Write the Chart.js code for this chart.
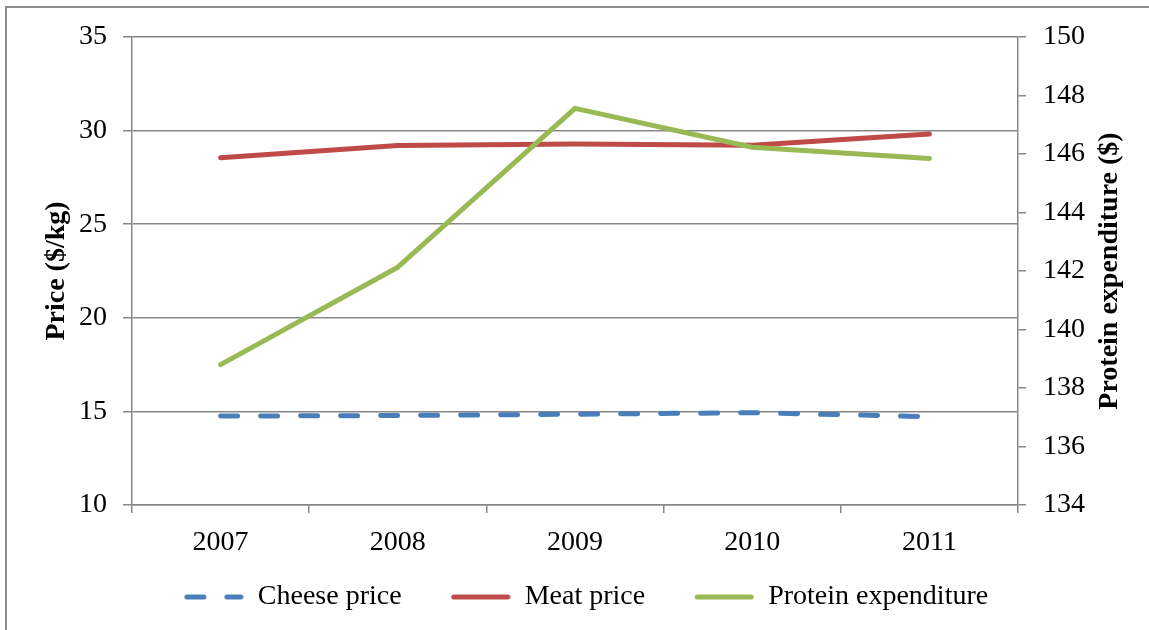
<!DOCTYPE html>
<html>
<head>
<meta charset="utf-8">
<script src="https://cdn.jsdelivr.net/npm/chart.js@4/dist/chart.umd.min.js"></script>
<style>
  html, body { margin: 0; padding: 0; background: #ffffff; }
  #frame {
    position: absolute; left: 5px; top: 6px; width: 1200px; height: 700px;
    border-left: 2px solid #8c8c8c; border-top: 2px solid #8c8c8c;
  }
  #chart { position: absolute; left: 0; top: 0; }
</style>
</head>
<body>
<div id="frame"></div>
<canvas id="chart" width="1149" height="630"></canvas>
<script>
const years = ["2007", "2008", "2009", "2010", "2011"];
const cheesePrice = [14.75, 14.78, 14.85, 14.93, 14.72];
const meatPrice = [28.55, 29.2, 29.28, 29.22, 29.82];
const proteinExpenditure = [138.8, 142.13, 147.56, 146.23, 145.85];

const priceTicks = { min: 10, max: 35, step: 5 };
const spendTicks = { min: 134, max: 150, step: 2 };

const serif = '"Liberation Serif", "Times New Roman", serif';
const axisGray = "#878787";
const rightTitle = "Protein expenditure ($)";

// legend swatch: blank lead-in on the left, then the line drawn with the dataset's own dash
function legendSwatch(ds) {
  const c = document.createElement("canvas");
  c.width = 83;
  c.height = 10;
  const g = c.getContext("2d");
  g.strokeStyle = ds.borderColor;
  g.lineWidth = ds.borderWidth;
  g.lineCap = "round";
  g.setLineDash(ds.borderDash || []);
  g.beginPath();
  g.moveTo(26, 5);
  g.lineTo(80, 5);
  g.stroke();
  return c;
}

// the built-in right-axis title reads top-down; draw it bottom-up like the left one
const rightTitlePlugin = {
  id: "rightTitle",
  afterDraw(chart) {
    const scale = chart.scales.y1;
    const { ctx } = chart;
    ctx.save();
    ctx.translate(scale.right - 39, (scale.top + scale.bottom) / 2);
    ctx.rotate(-Math.PI / 2);
    ctx.font = `bold 28px ${serif}`;
    ctx.fillStyle = "#000000";
    ctx.textAlign = "center";
    ctx.textBaseline = "middle";
    ctx.fillText(rightTitle, 0, 0);
    ctx.restore();
  }
};

const datasets = [
  {
    label: "Cheese price",
    data: cheesePrice,
    yAxisID: "y",
    borderColor: "#4a7ebb",
    borderWidth: 5,
    borderDash: [17, 23],
    borderCapStyle: "round",
    order: 2
  },
  {
    label: "Meat price",
    data: meatPrice,
    yAxisID: "y",
    borderColor: "#be4b48",
    borderWidth: 5,
    borderCapStyle: "round",
    order: 1
  },
  {
    label: "Protein expenditure",
    data: proteinExpenditure,
    yAxisID: "y1",
    borderColor: "#98b954",
    borderWidth: 5,
    borderCapStyle: "round",
    order: 0
  }
];

new Chart(document.querySelector("#chart"), {
  type: "line",
  data: { labels: years, datasets },
  plugins: [rightTitlePlugin],
  options: {
    responsive: false,
    animation: false,
    devicePixelRatio: 1,
    layout: { padding: { left: 0, right: 0, top: 37, bottom: 9 } },
    elements: {
      point: { radius: 0, hoverRadius: 0 },
      line: { tension: 0, borderJoinStyle: "round", fill: false }
    },
    plugins: {
      tooltip: { enabled: false },
      legend: {
        position: "bottom",
        labels: {
          usePointStyle: true,
          pointStyleWidth: 83,
          padding: 26,
          color: "#000000",
          font: { family: serif, size: 28 },
          generateLabels: (chart) =>
            Chart.defaults.plugins.legend.labels.generateLabels(chart)
              .sort((a, b) => a.datasetIndex - b.datasetIndex)
              .map((item) => ({
                ...item,
                pointStyle: legendSwatch(chart.data.datasets[item.datasetIndex])
              }))
        }
      }
    },
    scales: {
      x: {
        type: "category",
        offset: true,
        grid: { offset: true, drawOnChartArea: false, color: axisGray, lineWidth: 1.5, tickLength: 8 },
        border: { color: axisGray, width: 1.5 },
        ticks: { color: "#000000", padding: 13, font: { family: serif, size: 28 } },
        afterFit: (scale) => { scale.height = 52; }
      },
      y: {
        position: "left",
        min: priceTicks.min,
        max: priceTicks.max,
        grid: { color: axisGray, lineWidth: 1.5, tickLength: 9 },
        border: { color: axisGray, width: 1.5 },
        ticks: { stepSize: priceTicks.step, color: "#000000", padding: 16, font: { family: serif, size: 28 } },
        title: {
          display: true,
          text: "Price ($/kg)",
          color: "#000000",
          padding: { top: 40, bottom: 0 },
          font: { family: serif, size: 28, weight: "bold" }
        },
        afterFit: (scale) => { scale.width = 132; }
      },
      y1: {
        position: "right",
        min: spendTicks.min,
        max: spendTicks.max,
        grid: { drawOnChartArea: false, color: axisGray, lineWidth: 1.5, tickLength: 8 },
        border: { color: axisGray, width: 1.5 },
        ticks: { stepSize: spendTicks.step, color: "#000000", padding: 17, font: { family: serif, size: 28 } },
        afterFit: (scale) => { scale.width = 131; }
      }
    }
  }
});
</script>
</body>
</html>
